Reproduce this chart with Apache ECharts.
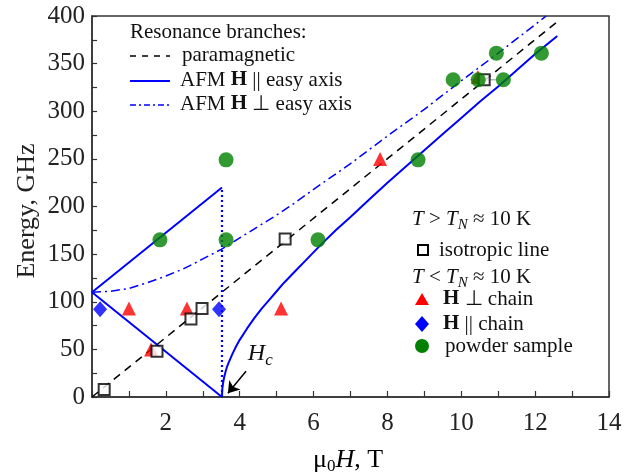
<!DOCTYPE html>
<html><head><meta charset="utf-8">
<script src="https://cdn.jsdelivr.net/npm/echarts@6/dist/echarts.min.js"></script>
<style>html,body{margin:0;padding:0;background:#fff;}#c{width:630px;height:474px;}</style>
</head><body><div id="c"></div>
<script>
// ---- data ----
const xTicks = [0,2,4,6,8,10,12,14];
const yTicks = [0,50,100,150,200,250,300,350,400];
const paraLine = [[0,0],[12.6,394]];
const afmUp = [[0,110],[3.52,220]];
const afmDown = [[0,110],[3.52,0]];
const afmVert = [[3.52,0],[3.52,220]];
const afmFlop = [[3.52,0],[3.525,6],[3.53,9],[3.54,12],[3.56,17],[3.58,21],[3.62,27],[3.65,31],[3.7,36],[3.8,45],[3.9,53],[4.0,60],[4.2,72],[4.4,83],[4.6,93],[4.8,102],[5.0,111],[5.2,120],[5.5,132],[5.8,144],[6.2,160],[6.6,175],[7,189],[7.5,207],[8,225],[8.5,242],[9,259],[9.5,276],[10,293],[10.5,310],[11,326],[11.5,343],[12,360],[12.6,379]];
const afmPerp = [[0,110],[0.5,111],[1,114],[1.5,120],[2,127],[2.5,135],[3,145],[3.5,155],[4,167],[4.5,179],[5,191],[5.5,204],[6,218],[7,245],[8,274],[9,302],[10,332],[11,361],[12,391],[12.3,400]];
const isoLine = [[0.33,8],[1.76,48],[2.68,82],[2.98,93],[5.23,166],[10.62,333]];
const isoErr = [[10.25,333],[10.95,333]];
const perpChain = [[1.0,93],[2.57,93],[5.12,93],[1.6,50],[7.8,250],[10.45,336]];
const parChain = [[0.22,92],[3.44,92]];
const powder = [[1.84,165],[3.63,249],[3.63,165],[6.12,165],[8.83,249],[9.78,333],[10.46,333],[11.14,333],[10.95,361],[12.17,361]];
const hcArrow = [[4.17,27],[3.68,4]];
const hcLabel = [4.22,45];

const FONT = 'Liberation Serif';
const BLUE = '#0000ff';
const chart = echarts.init(document.getElementById('c'), null, {renderer:'canvas'});
const option = {
  animation:false,
  backgroundColor:'#fff',
  grid:{left:92,right:21,top:16,bottom:77,show:true,borderColor:'#333',borderWidth:1.5,backgroundColor:'transparent'},
  xAxis:{type:'value',min:0,max:14,interval:1,
    axisLine:{lineStyle:{color:'#333',width:1.5}},
    axisTick:{inside:true,length:6,lineStyle:{color:'#333',width:1.2}},
    splitLine:{show:false},
    axisLabel:{fontFamily:FONT,fontSize:25,color:'#222',margin:14,
      formatter:v=> (xTicks.indexOf(v)>0 ? String(v) : '')}},
  yAxis:{type:'value',min:0,max:400,interval:25,
    axisLine:{show:true,lineStyle:{color:'#333',width:1.5}},
    axisTick:{show:true,inside:true,length:5,lineStyle:{color:'#333',width:1.2}},
    splitLine:{show:false},
    axisLabel:{fontFamily:FONT,fontSize:25,color:'#222',margin:7,
      formatter:v=> (yTicks.indexOf(v)>=0 ? String(v) : '')}},
  series:[
    {type:'line',data:paraLine,symbol:'none',lineStyle:{color:'#000',width:1.5,type:[8,6]},z:2},
    {type:'line',data:afmUp,symbol:'none',lineStyle:{color:BLUE,width:2},z:2},
    {type:'line',data:afmDown,symbol:'none',lineStyle:{color:BLUE,width:2},z:2},
    {type:'line',data:afmVert,symbol:'none',lineStyle:{color:BLUE,width:2.2,type:[2,3]},z:2},
    {type:'line',data:afmFlop,symbol:'none',lineStyle:{color:BLUE,width:2},z:2},
    {type:'line',data:afmPerp,symbol:'none',lineStyle:{color:BLUE,width:1.5,type:[9,4,2,4]},z:2},
    {type:'line',data:[],symbol:'none',z:3,
      markLine:{silent:true,symbolSize:11,label:{show:false},lineStyle:{color:'#000',width:1.5,type:'solid'},
        data:[[{coord:hcArrow[0],symbol:'none'},{coord:hcArrow[1],symbol:'arrow'}]]}},
    {type:'scatter',data:perpChain,symbol:'triangle',symbolSize:14,itemStyle:{color:'#ff0000'},z:4},
    {type:'line',data:isoErr,symbol:'none',lineStyle:{color:'#999',width:1},z:4},
    {type:'scatter',data:isoLine,symbol:'rect',symbolSize:11,itemStyle:{color:'#fff',borderColor:'#000',borderWidth:2},z:5},
    {type:'scatter',data:parChain,symbol:'diamond',symbolSize:[14,16],itemStyle:{color:BLUE},z:5},
    {type:'scatter',data:powder,symbol:'circle',symbolSize:15,itemStyle:{color:'#008000'},z:6}
  ]
};
chart.setOption(option);

const FS = 21;
const rich = {
  b:{fontFamily:FONT,fontSize:FS,fontWeight:'bold',color:'#111',lineHeight:27},
  i:{fontFamily:FONT,fontSize:FS,fontStyle:'italic',color:'#111',lineHeight:27},
  s:{fontFamily:FONT,fontSize:15,fontStyle:'italic',color:'#111',lineHeight:15,verticalAlign:'bottom'},
  r:{fontFamily:FONT,fontSize:FS,color:'#111',lineHeight:27},
  hi:{fontFamily:FONT,fontSize:24,fontStyle:'italic',color:'#111',lineHeight:30},
  hs:{fontFamily:FONT,fontSize:17,fontStyle:'italic',color:'#111',lineHeight:17,verticalAlign:'bottom'}
};
function txt(x,y,text,extra){
  return Object.assign({type:'text',x:x,y:y,style:{text:text,rich:rich,fontFamily:FONT,fontSize:FS,fill:'#111',verticalAlign:'middle'}},extra||{});
}
function line(x1,y1,x2,y2,stroke,w,dash){
  return {type:'line',shape:{x1:x1,y1:y1,x2:x2,y2:y2},style:{stroke:stroke,lineWidth:w,lineDash:dash||null}};
}
const hcPix = chart.convertToPixel({gridIndex:0},hcLabel);
const g = [
  txt(130,32,'{r|Resonance branches:}'),
  line(130,56,170,56,'#000',1.5,[6,6]),
  txt(182,55,'{r|paramagnetic}'),
  line(130,81,170,81,BLUE,2),
  txt(180,80,'{r|AFM }{b|H}{r| || easy axis}'),
  line(130,105,170,105,BLUE,1.5,[6,3,2,3]),
  txt(180,104,'{r|AFM }{b|H}{r| ⊥ easy axis}'),
  txt(412,219,'{i|T}{r| > }{i|T}{s|N}{r| ≈ 10 K}'),
  {type:'rect',shape:{x:418,y:245,width:10,height:10},style:{fill:'#fff',stroke:'#000',lineWidth:2}},
  txt(439,250,'{r|isotropic line}'),
  txt(412,277,'{i|T}{r| < }{i|T}{s|N}{r| ≈ 10 K}'),
  {type:'polygon',shape:{points:[[422,293],[429,305],[415,305]]},style:{fill:'#ff0000'}},
  txt(443,299,'{b|H}{r| ⊥ chain}'),
  {type:'polygon',shape:{points:[[422,316],[429,324],[422,332],[415,324]]},style:{fill:BLUE}},
  txt(443,324,'{b|H}{r| || chain}'),
  {type:'circle',shape:{cx:422,cy:346,r:7},style:{fill:'#008000'}},
  txt(445,346,'{r|powder sample}'),
  txt(hcPix[0],hcPix[1],'{hi|H}{hs|c}'),
  {type:'text',x:27,y:211,rotation:Math.PI/2,style:{text:'Energy, GHz',fontFamily:FONT,fontSize:26,fill:'#222',align:'center',verticalAlign:'middle'}},
  {type:'text',x:348,y:460,style:{text:'{m|μ}{s0|0}{mi|H}{m|, T}',align:'center',verticalAlign:'middle',rich:{
    m:{fontFamily:FONT,fontSize:26,color:'#222',lineHeight:30},
    mi:{fontFamily:FONT,fontSize:26,fontStyle:'italic',color:'#222',lineHeight:30},
    s0:{fontFamily:FONT,fontSize:17,color:'#222',lineHeight:17,verticalAlign:'bottom'}}}}
];
chart.setOption({graphic:{elements:g}});
</script></body></html>
